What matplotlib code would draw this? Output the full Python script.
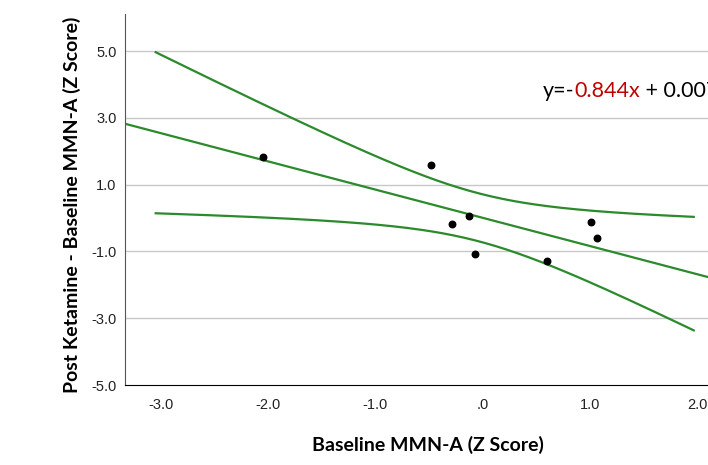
import numpy as np
import matplotlib
matplotlib.use("Agg")
import matplotlib.pyplot as plt

# data
baseline = [-2.05, -0.48, -0.13, -0.29, -0.07, 0.60, 1.01, 1.07]
change = [1.83, 1.59, 0.06, -0.18, -1.08, -1.29, -0.12, -0.60]
slope, intercept = -0.844, 0.007
eq_parts = ["y=-", "0.844x", " + 0.007"]
eq_colors = ["black", "#c00000", "black"]
yticks = [5.0, 3.0, 1.0, -1.0, -3.0, -5.0]
ytick_labels = ["5.0", "3.0", "1.0", "-1.0", "-3.0", "-5.0"]
xticks = [-3.0, -2.0, -1.0, 0.0, 1.0, 2.0]
xtick_labels = ["-3.0", "-2.0", "-1.0", ".0", "1.0", "2.0"]

x = np.array(baseline)
y = np.array(change)
n = len(x)

# 95% confidence band of the mean
fit = np.polyfit(x, y, 1)
resid = y - np.polyval(fit, x)
s = np.sqrt(np.sum(resid ** 2) / (n - 2))
sxx = np.sum((x - x.mean()) ** 2)
t = 2.447
xb = np.linspace(-3.05, 1.97, 200)
yb = np.polyval(fit, xb)
half = t * s * np.sqrt(1 / n + (xb - x.mean()) ** 2 / sxx)

fig = plt.figure(figsize=(7.08, 4.65), dpi=100)
ax = fig.add_axes([0.1766, 0.172, 0.8234, 0.798])
ax.set_xlim(-3.336, 2.103)
ax.set_ylim(-5.0, 6.11)

for v in yticks[:-1]:
    ax.axhline(v, color="#c8c8c8", lw=1.0, zorder=0)

green = "#2b8a2b"
xl = np.array(ax.get_xlim())
ax.plot(xl, slope * xl + intercept, color=green, lw=1.6)
ax.plot(xb, yb + half, color=green, lw=1.6)
ax.plot(xb, yb - half, color=green, lw=1.6)
ax.scatter(x, y, s=22, color="black", zorder=3)

ax.set_yticks(yticks)
ax.set_yticklabels(ytick_labels)
ax.set_xticks(xticks)
ax.set_xticklabels(xtick_labels)
ax.tick_params(length=0, labelsize=10.5, pad=6, labelcolor="#222222")
for lab in ax.get_xticklabels() + ax.get_yticklabels():
    lab.set_family("Liberation Sans")
ax.tick_params(axis="x", pad=9)

for side in ["top", "right"]:
    ax.spines[side].set_visible(False)
ax.spines["left"].set_color("#555555")
ax.spines["bottom"].set_color("black")

fig.text(0.605, 0.043, "Baseline MMN-A (Z Score)", ha="center", va="center",
         fontsize=14, fontweight="bold", family="Lato")
fig.text(0.102, 0.56, "Post Ketamine - Baseline MMN-A (Z Score)", ha="center",
         va="center", rotation=90, fontsize=14, fontweight="bold", family="Lato")

# equation, coloured in pieces
prev = fig.text(543 / 708, 1 - 97 / 465, eq_parts[0], color=eq_colors[0],
                fontsize=15.5, family="Lato", va="baseline")
for part, col in zip(eq_parts[1:], eq_colors[1:]):
    prev = ax.annotate(part, xy=(1, 0), xycoords=prev, va="bottom",
                       color=col, fontsize=15.5, family="Lato",
                       annotation_clip=False)

fig.savefig("out.png", dpi=100)
